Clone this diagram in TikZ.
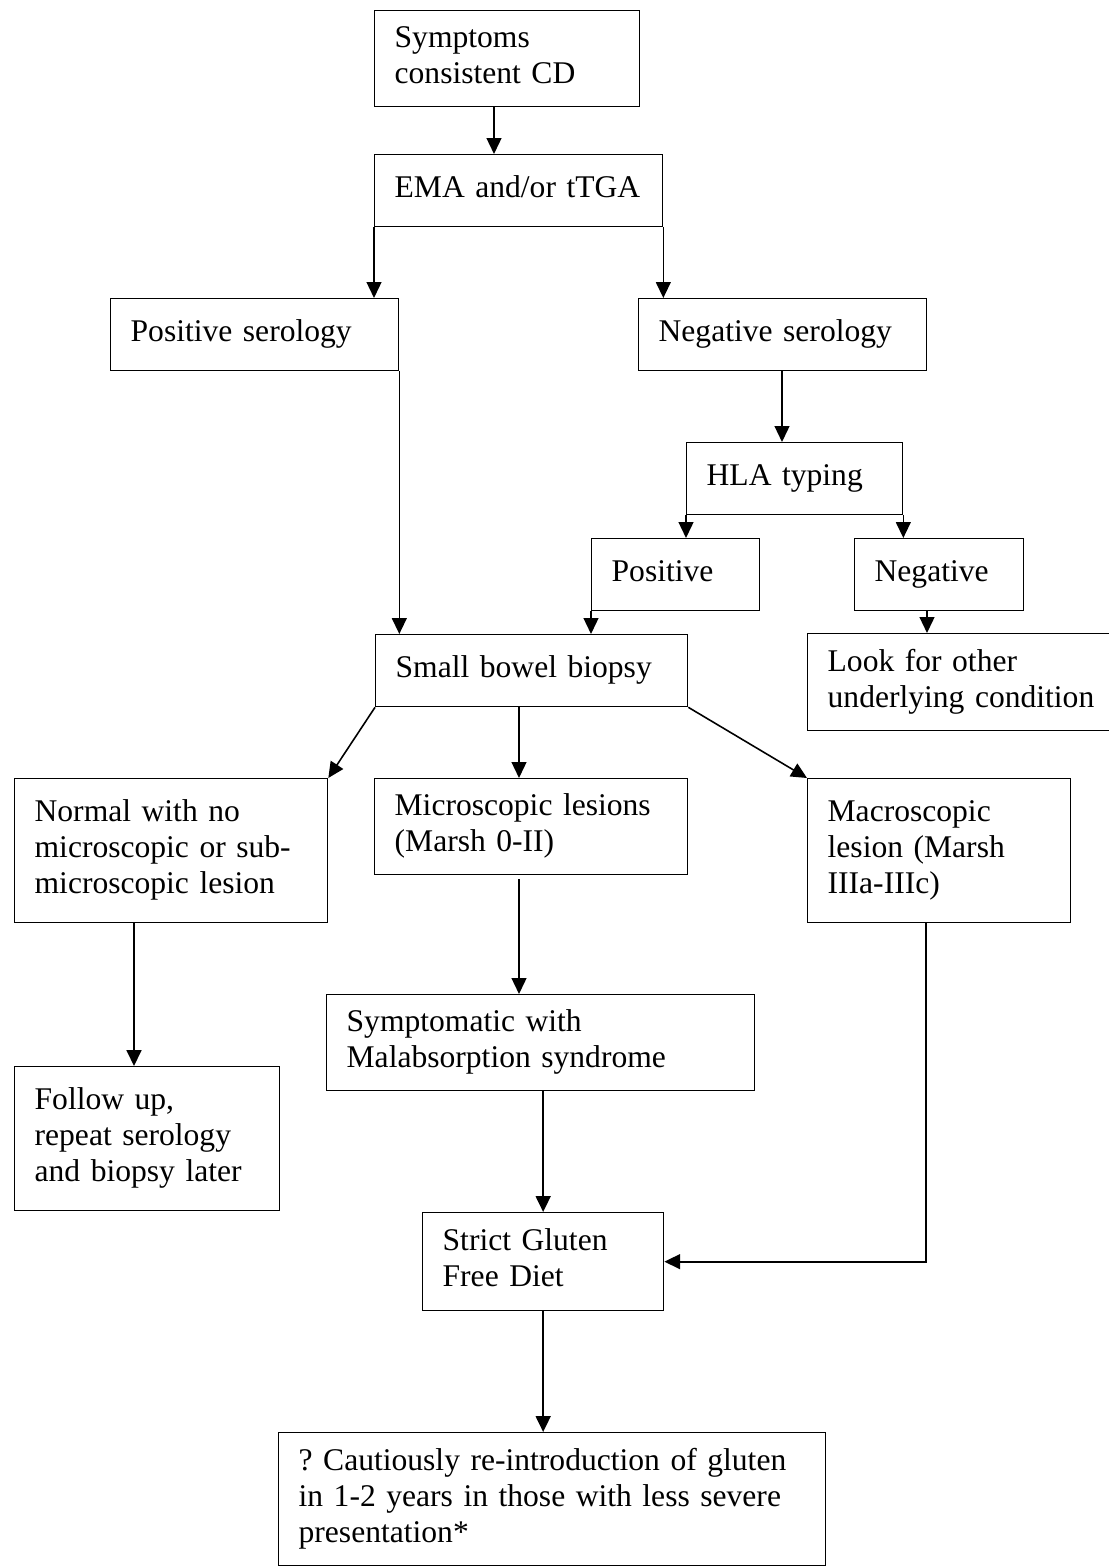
\documentclass[tikz,border=0pt]{standalone}
\usepackage{fontspec}
\setmainfont{Liberation Serif}
\usetikzlibrary{arrows.meta, calc}
\frenchspacing

\tikzset{
	box/.style 2 args = {draw, line width = 0.5pt, rectangle, anchor = north west, align = left,
		inner xsep = 7.6pt, inner ysep = 0pt,
		minimum width = #1*0.38pt, text width = (#1-40)*0.38pt, minimum height = #2*0.38pt,
		font = \fontsize{12}{13.7}\selectfont,
		execute at begin node = \strut, execute at end node = \strut},
	arr/.style = {line width = 0.6pt, -{Triangle[length = 6pt, width = 5.6pt]}},
	thickarr/.style = {arr, line width = 0.8pt}
}

\begin{document}
\begin{tikzpicture}[x = 0.38pt, y = -0.38pt]
	\useasboundingbox (0, 0) rectangle (1108, 1566);
	
	% boxes
	\node[box = {265}{96}] (sym) at (374, 10) {Symptoms\\consistent CD};
	\node[box = {288}{72}] (ema) at (374, 154) {EMA and/or tTGA};
	\node[box = {288}{72}] (pos) at (110, 298) {Positive serology};
	\node[box = {288}{72}] (neg) at (638, 298) {Negative serology};
	\node[box = {216}{72}] (hla) at (686, 442) {HLA typing};
	\node[box = {168}{72}] (hpos) at (591, 538) {Positive};
	\node[box = {169}{72}] (hneg) at (854, 538) {Negative};
	\node[box = {312}{72}] (biopsy) at (375, 634) {Small bowel biopsy};
	\node[box = {330}{97}] (other) at (807, 633) {Look for other\\underlying condition};
	\node[box = {313}{144}] (normal) at (14, 778) {Normal with no\\microscopic or sub-\\microscopic lesion};
	\node[box = {313}{96}] (micro) at (374, 778) {Microscopic lesions\\(Marsh 0-II)};
	\node[box = {263}{144}] (macro) at (807, 778) {Macroscopic\\lesion (Marsh\\IIIa-IIIc)};
	\node[box = {428}{96}] (symp) at (326, 994) {Symptomatic with\\Malabsorption syndrome};
	\node[box = {265}{144}] (follow) at (14, 1066) {Follow up,\\repeat serology\\and biopsy later};
	\node[box = {241}{98}] (strict) at (422, 1212) {Strict Gluten\\Free Diet};
	\node[box = {547}{133}] (final) at (278, 1432) {? Cautiously re-introduction of gluten\\in 1-2 years in those with less severe\\presentation*};
	
	% arrows
	\draw[arr] ($(sym.south west) + (120, 0)$) -- ($(ema.north west) + (120, 0)$);
	\draw[arr] (ema.south west) -- (ema.south west |- pos.north);
	\draw[arr] (ema.south east) -- (ema.south east |- neg.north);
	\draw[arr] (pos.south east) -- (pos.south east |- biopsy.north);
	\draw[arr] ($(neg.south west) + (144, 0)$) -- ($(hla.north west) + (96, 0)$);
	\draw[arr] (hla.south west) -- (hla.south west |- hpos.north);
	\draw[arr] (hla.south east) -- (hla.south east |- hneg.north);
	\draw[arr] (hpos.south west) -- (hpos.south west |- biopsy.north);
	\draw[arr] ($(hneg.south west) + (73, 0)$) -- ($(other.north west) + (120, 0)$);
	
	\draw[arr] (biopsy.south west) -- (normal.north east);
	\draw[arr] ($(biopsy.south west) + (144, 0)$) -- ($(micro.north west) + (145, 0)$);
	\draw[arr] (biopsy.south east) -- (macro.north west);
	
	\draw[thickarr] ($(normal.south west) + (120, 0)$) -- ($(follow.north west) + (120, 0)$);
	\draw[arr] ($(micro.south west) + (145, 4)$) -- ($(symp.north west) + (193, 0)$);
	\draw[thickarr] (strict.north |- symp.south) -- (strict.north);
	\draw[thickarr] ($(macro.south west) + (119, 0)$) |- (strict.east);
	\draw[thickarr] (strict.south) -- (strict.south |- final.north);
\end{tikzpicture}
\end{document}
